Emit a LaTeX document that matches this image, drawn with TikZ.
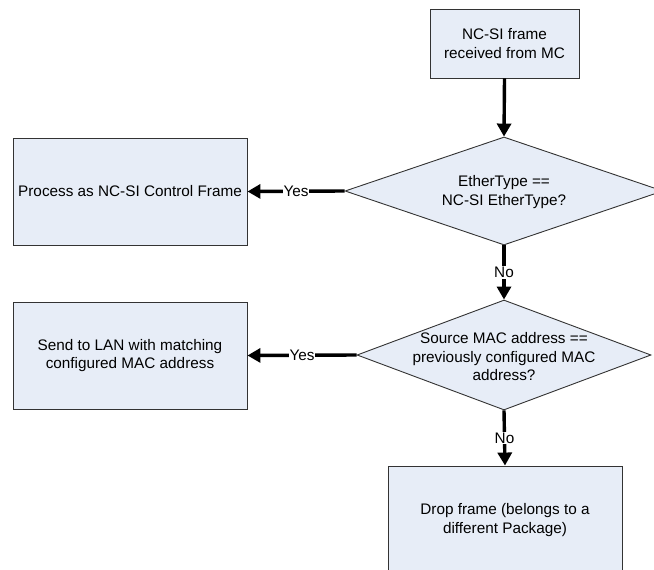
\documentclass[tikz,border=0pt]{standalone}
\usepackage{fontspec}
\setmainfont{Liberation Sans}
\usetikzlibrary{shapes.geometric,arrows.meta}
\definecolor{boxfill}{HTML}{E7EDF7}
\definecolor{boxline}{HTML}{333333}
\begin{document}
\begin{tikzpicture}[x=1bp,y=-1bp,
  font=\fontsize{15.3bp}{18.5bp}\selectfont,
  procbox/.style={draw=boxline,fill=boxfill,line width=0.9bp,rectangle,inner sep=0pt,align=center},
  dia/.style={draw=boxline,fill=boxfill,line width=0.9bp,diamond,inner sep=0pt},
  txt/.style={align=center,inner sep=0pt},
  flow/.style={line width=3.4bp,-{Triangle[length=13bp,width=14bp]}},
  lbl/.style={fill=white,inner sep=1bp}]
\useasboundingbox (0,0) rectangle (654,570);
\clip (0,0) rectangle (654,570);
\node[procbox,minimum width=149bp,minimum height=69bp] (start) at (504.5,43.5) {NC-SI frame\\received from MC};
\node[dia,minimum width=318bp,minimum height=108bp] (d1) at (504,191) {};
\node[txt] (d1t) at (504,192) {EtherType ==\\NC-SI EtherType?};
\node[procbox,minimum width=234bp,minimum height=107bp] (ctrl) at (130,191.5) {Process as NC-SI Control Frame};
\node[dia,minimum width=294bp,minimum height=110bp] (d2) at (504,355) {};
\node[txt] (d2t) at (504,357) {Source MAC address ==\\previously configured MAC\\address?};
\node[procbox,minimum width=234bp,minimum height=107bp] (lan) at (130,355.5) {Send to LAN with matching\\configured MAC address};
\node[procbox,minimum width=234bp,minimum height=108bp] (drop) at (505,520) {Drop frame (belongs to a\\different Package)};
\draw[flow] (start.south) -- (d1.north);
\draw[flow] (d1.west) -- node[lbl]{Yes} (ctrl.east);
\draw[flow] (d1.south) -- node[lbl]{No} (d2.north);
\draw[flow] (d2.west) -- node[lbl]{Yes} (lan.east);
\draw[flow] (d2.south) -- node[lbl]{No} (drop.north);
\end{tikzpicture}
\end{document}
